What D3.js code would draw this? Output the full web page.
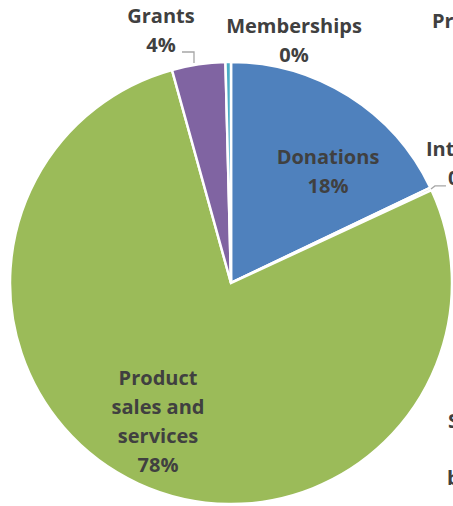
<!DOCTYPE html>
<html>
<head>
<meta charset="utf-8">
<script src="https://cdn.jsdelivr.net/npm/d3@7"></script>
<style>
  body { margin: 0; background: #fff; }
  svg { display: block; }
  text { font-family: "Open Sans", sans-serif; font-weight: 700; fill: #404040; }
</style>
</head>
<body>
<svg id="chart" width="453" height="506"></svg>
<script>
// revenue sources, percent of total
var categories = ["Donations", "Interest", "Product sales and services", "Grants", "Memberships"];
var values = [17.9, 0.2, 77.6, 3.9, 0.4];
var colors = ["#4F81BD", "#A5A5A5", "#9BBB59", "#8064A2", "#4BACC6"];
// other 0% categories whose labels sit past the right edge
var offLabels = ["Program", "Interest", "0%", "Special", "bequests"];

var svg = d3.select("#chart");
var w = 453, h = 506;
var cx = 231, cy = 283, r = 221;

var pie = d3.pie().sort(null).value(function (d) { return d; });
var arc = d3.arc().innerRadius(0).outerRadius(r);
var arcs = pie(values);

var g = svg.append("g").attr("transform", "translate(" + cx + "," + cy + ")");

g.selectAll("path")
  .data(arcs)
  .enter()
  .append("path")
  .attr("d", arc)
  .attr("fill", function (d, i) { return colors[i]; })
  .attr("stroke", "#fff")
  .attr("stroke-width", 2.5)
  .attr("stroke-linejoin", "miter");

function pct(v) { return Math.round(v) + "%"; }

// label placement, relative to pie center
var lab = [
  { x: 97, y: -119, lines: ["Donations"] },
  null,
  { x: -73, y: 102, lines: ["Product", "sales and", "services"] },
  { x: -70, y: -260, lines: ["Grants"] },
  { x: 63, y: -250, lines: ["Memberships"] }
];
var lineH = 29;

arcs.forEach(function (a, i) {
  var L = lab[i];
  if (!L) return;
  var t = g.append("text")
    .attr("text-anchor", "middle")
    .style("font-size", "20px");
  L.lines.concat([pct(values[i])]).forEach(function (s, k) {
    t.append("tspan").attr("x", L.x).attr("y", L.y + k * lineH).text(s);
  });
});

// leader lines
var leader = d3.line();
g.append("path")
  .attr("d", leader([[-49, -231], [-37, -231], [-37, -220]]))
  .attr("fill", "none").attr("stroke", "#A6A6A6").attr("stroke-width", 1.3);
var ia = arcs[1];
var im = (ia.startAngle + ia.endAngle) / 2;
var p0 = [Math.sin(im) * r, -Math.cos(im) * r];
g.append("path")
  .attr("d", leader([p0, [p0[0] + 4, p0[1] - 3], [p0[0] + 15, p0[1] - 3]]))
  .attr("fill", "none").attr("stroke", "#A6A6A6").attr("stroke-width", 1.3);

// clipped labels on the right edge
var offPos = [[432, 28], [426, 156], [448, 185], [448, 428], [447, 485]];
offLabels.forEach(function (s, i) {
  svg.append("text")
    .attr("x", offPos[i][0]).attr("y", offPos[i][1])
    .style("font-size", "20px")
    .text(s);
});
</script>
</body>
</html>
